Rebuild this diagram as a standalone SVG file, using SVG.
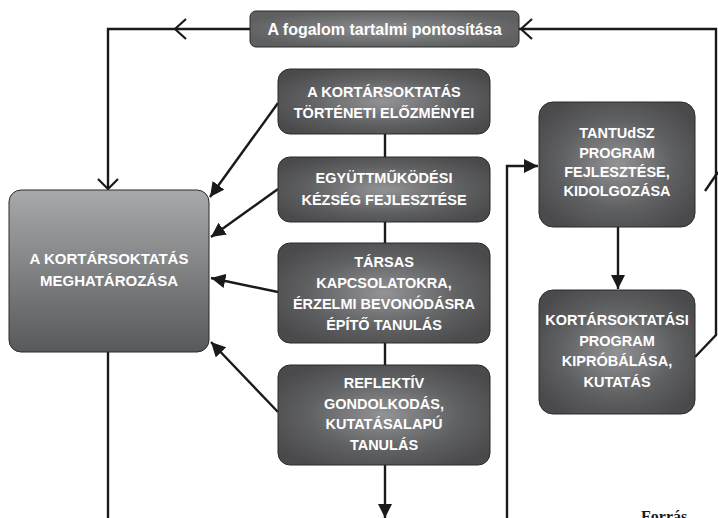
<svg xmlns="http://www.w3.org/2000/svg" width="718" height="518" viewBox="0 0 718 518">
<defs>
<radialGradient id="rg" cx="50%" cy="50%" r="60%">
<stop offset="0" stop-color="#939395"/>
<stop offset="0.6" stop-color="#5f6062"/>
<stop offset="1" stop-color="#4a4a4c"/>
</radialGradient>
<radialGradient id="rgTop" cx="50%" cy="50%" r="55%">
<stop offset="0" stop-color="#8c8d8f"/>
<stop offset="1" stop-color="#5e5f61"/>
</radialGradient>
<linearGradient id="lg" x1="0" y1="0" x2="0" y2="1">
<stop offset="0" stop-color="#a7a9ab"/>
<stop offset="1" stop-color="#58595b"/>
</linearGradient>
<marker id="af" viewBox="0 0 10 10" refX="10" refY="5" markerWidth="6" markerHeight="6" orient="auto" markerUnits="strokeWidth">
<path d="M0,0 L10,5 L0,10 Z" fill="#1a1a1a"/>
</marker>
<style>
.box{stroke:#2b2b2b;stroke-width:1}
.t{font-family:"Liberation Sans",Arial,sans-serif;font-weight:bold;font-size:14.5px;fill:#ffffff;text-anchor:middle}
.c{fill:none;stroke:#1a1a1a;stroke-width:2.4}
.ch{fill:none;stroke:#1a1a1a;stroke-width:2.2}
</style>
</defs>

<g id="connectors">
<polyline class="c" points="250,29 108,29 108,189"/>
<polyline class="c" points="519,29 716,29 716,335 695,357"/>
<polyline class="ch" points="186,19 175,29 186,39"/>
<polyline class="ch" points="532,19 521,29 532,39"/>
<polyline class="ch" points="98,179 108,189 118,179"/>
<line class="c" x1="705" y1="191" x2="718" y2="172"/>
<line class="c" x1="278" y1="103" x2="210" y2="197" marker-end="url(#af)"/>
<line class="c" x1="278" y1="189" x2="211" y2="237" marker-end="url(#af)"/>
<line class="c" x1="278" y1="292" x2="211" y2="278" marker-end="url(#af)"/>
<line class="c" x1="278" y1="412" x2="211" y2="342" marker-end="url(#af)"/>
<line class="c" x1="385" y1="134" x2="385" y2="157"/>
<line class="c" x1="385" y1="222" x2="385" y2="243"/>
<line class="c" x1="385" y1="343" x2="385" y2="365"/>
<line class="c" x1="385" y1="465" x2="385" y2="518" marker-end="url(#af)"/>
<line class="c" x1="108" y1="352" x2="108" y2="518"/>
<polyline class="c" points="507,518 507,166 538,166" marker-end="url(#af)"/>
<line class="c" x1="618" y1="227" x2="618" y2="289" marker-end="url(#af)"/>
</g>

<g id="top">
<rect class="box" x="250" y="11" width="269" height="36" rx="6" fill="url(#rgTop)"/>
<text class="t" x="384.5" y="35" style="font-size:16px">A fogalom tartalmi pontosítása</text>
</g>

<g id="left">
<rect class="box" x="9" y="190" width="200" height="162" rx="12" fill="url(#lg)"/>
<text class="t" x="109" y="264" style="font-size:15px">A KORTÁRSOKTATÁS</text>
<text class="t" x="109" y="286" style="font-size:15px">MEGHATÁROZÁSA</text>
</g>

<g id="m1">
<rect class="box" x="278" y="69" width="212" height="65" rx="12" fill="url(#rg)"/>
<text class="t" x="384" y="97">A KORTÁRSOKTATÁS</text>
<text class="t" x="384" y="118">TÖRTÉNETI ELŐZMÉNYEI</text>
</g>

<g id="m2">
<rect class="box" x="278" y="157" width="212" height="65" rx="12" fill="url(#rg)"/>
<text class="t" x="384" y="183">EGYÜTTMŰKÖDÉSI</text>
<text class="t" x="384" y="205">KÉZSÉG FEJLESZTÉSE</text>
</g>

<g id="m3">
<rect class="box" x="278" y="243" width="212" height="100" rx="12" fill="url(#rg)"/>
<text class="t" x="384" y="267">TÁRSAS</text>
<text class="t" x="384" y="288">KAPCSOLATOKRA,</text>
<text class="t" x="384" y="309">ÉRZELMI BEVONÓDÁSRA</text>
<text class="t" x="384" y="330">ÉPÍTŐ TANULÁS</text>
</g>

<g id="m4">
<rect class="box" x="278" y="365" width="212" height="100" rx="12" fill="url(#rg)"/>
<text class="t" x="384" y="388">REFLEKTÍV</text>
<text class="t" x="384" y="409">GONDOLKODÁS,</text>
<text class="t" x="384" y="429">KUTATÁSALAPÚ</text>
<text class="t" x="384" y="450">TANULÁS</text>
</g>

<g id="r1">
<rect class="box" x="539" y="102" width="156" height="125" rx="14" fill="url(#rg)"/>
<text class="t" x="617" y="138">TANTUdSZ</text>
<text class="t" x="617" y="158">PROGRAM</text>
<text class="t" x="617" y="177">FEJLESZTÉSE,</text>
<text class="t" x="617" y="196">KIDOLGOZÁSA</text>
</g>

<g id="r2">
<rect class="box" x="539" y="290" width="156" height="124" rx="14" fill="url(#rg)"/>
<text class="t" x="617" y="325">KORTÁRSOKTATÁSI</text>
<text class="t" x="617" y="346">PROGRAM</text>
<text class="t" x="617" y="366">KIPRÓBÁLÁSA,</text>
<text class="t" x="617" y="387">KUTATÁS</text>
</g>

<text x="641" y="522" font-family="Liberation Serif, Times New Roman, serif" font-weight="bold" font-size="16" fill="#1a1a1a">Forrás</text>
</svg>
